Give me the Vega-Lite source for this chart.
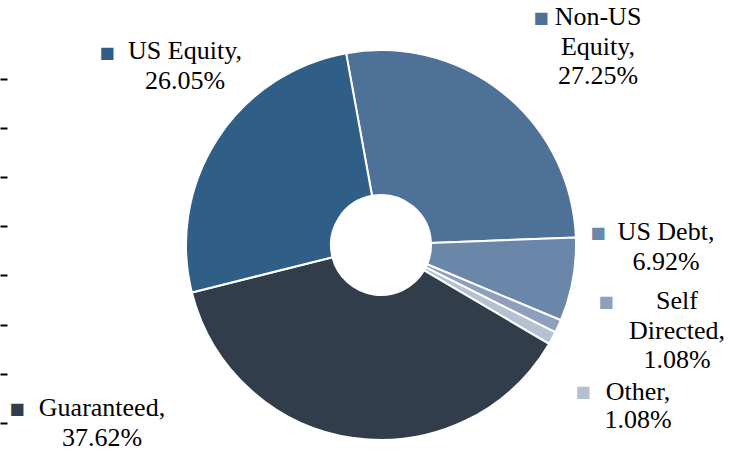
{
  "$schema": "https://vega.github.io/schema/vega-lite/v6.json",
  "autosize": {"type": "none"},
  "width": 726,
  "height": 414,
  "padding": {"left": 18, "top": 38, "right": 0, "bottom": 0},
  "background": "white",
  "config": {"view": {"stroke": null}, "text": {"font": "Liberation Serif"}},
  "data": {"values": [
    {"category": "Non-US Equity", "share": 27.25, "order": 1, "label": "Non-US\nEquity,\n27.25%"},
    {"category": "US Debt", "share": 6.92, "order": 2, "label": "US Debt,\n6.92%"},
    {"category": "Self Directed", "share": 1.08, "order": 3, "label": "Self\nDirected,\n1.08%"},
    {"category": "Other", "share": 1.08, "order": 4, "label": "Other,\n1.08%"},
    {"category": "Guaranteed", "share": 37.62, "order": 5, "label": "Guaranteed,\n37.62%"},
    {"category": "US Equity", "share": 26.05, "order": 6, "label": "US Equity,\n26.05%"}
  ]},
  "layer": [
    {
      "mark": {"type": "arc", "outerRadius": 195, "innerRadius": 50, "stroke": "white", "strokeWidth": 2},
      "encoding": {
        "theta": {"field": "share", "type": "quantitative", "stack": true, "scale": {"range": [-0.18, 6.1032]}},
        "order": {"field": "order", "type": "quantitative"},
        "color": {"field": "category", "type": "nominal", "legend": null,
          "scale": {"domain": ["Non-US Equity", "US Debt", "Self Directed", "Other", "Guaranteed", "US Equity"],
                    "range": ["#4E7197", "#6A86A8", "#8E9FBE", "#B5C0D0", "#323D4B", "#2F5F86"]}}
      }
    },
    {
      "data": {"values": [{}]},
      "mark": {"type": "point", "opacity": 0},
      "encoding": {
        "y": {"datum": 0, "type": "quantitative",
          "scale": {"domain": [-0.59, 7.825], "nice": false, "zero": false},
          "axis": {"values": [0, 1, 2, 3, 4, 5, 6, 7], "labels": false, "domain": false, "grid": false,
                   "ticks": true, "tickSize": 7, "tickWidth": 2, "tickColor": "black", "offset": 11, "title": null}}
      }
    },
    {"transform": [{"filter": "datum.category === 'US Equity'"}],
     "mark": {"type": "text", "dx": -196, "dy": -194, "fontSize": 26, "lineBreak": "\n", "lineHeight": 29.5, "align": "center", "baseline": "middle", "color": "black"},
     "encoding": {"text": {"field": "label"}}},
    {"transform": [{"filter": "datum.category === 'Non-US Equity'"}],
     "mark": {"type": "text", "dx": 217, "dy": -228, "fontSize": 26, "lineBreak": "\n", "lineHeight": 29.5, "align": "center", "baseline": "middle", "color": "black"},
     "encoding": {"text": {"field": "label"}}},
    {"transform": [{"filter": "datum.category === 'US Debt'"}],
     "mark": {"type": "text", "dx": 285, "dy": -13, "fontSize": 26, "lineBreak": "\n", "lineHeight": 29.5, "align": "center", "baseline": "middle", "color": "black"},
     "encoding": {"text": {"field": "label"}}},
    {"transform": [{"filter": "datum.category === 'Self Directed'"}],
     "mark": {"type": "text", "dx": 296, "dy": 56, "fontSize": 26, "lineBreak": "\n", "lineHeight": 29.5, "align": "center", "baseline": "middle", "color": "black"},
     "encoding": {"text": {"field": "label"}}},
    {"transform": [{"filter": "datum.category === 'Other'"}],
     "mark": {"type": "text", "dx": 257, "dy": 147, "fontSize": 26, "lineBreak": "\n", "lineHeight": 28, "align": "center", "baseline": "middle", "color": "black"},
     "encoding": {"text": {"field": "label"}}},
    {"transform": [{"filter": "datum.category === 'Guaranteed'"}],
     "mark": {"type": "text", "dx": -279, "dy": 163, "fontSize": 26, "lineBreak": "\n", "lineHeight": 29.5, "align": "center", "baseline": "middle", "color": "black"},
     "encoding": {"text": {"field": "label"}}},
    {"transform": [{"filter": "datum.category === 'US Equity'"}],
     "mark": {"type": "text", "text": "■", "font": "DejaVu Sans", "fontSize": 16, "dx": -274, "dy": -192, "align": "center", "baseline": "middle"},
     "encoding": {"color": {"field": "category", "type": "nominal", "legend": null}}},
    {"transform": [{"filter": "datum.category === 'Non-US Equity'"}],
     "mark": {"type": "text", "text": "■", "font": "DejaVu Sans", "fontSize": 16, "dx": 160, "dy": -227, "align": "center", "baseline": "middle"},
     "encoding": {"color": {"field": "category", "type": "nominal", "legend": null}}},
    {"transform": [{"filter": "datum.category === 'US Debt'"}],
     "mark": {"type": "text", "text": "■", "font": "DejaVu Sans", "fontSize": 16, "dx": 217, "dy": -12, "align": "center", "baseline": "middle"},
     "encoding": {"color": {"field": "category", "type": "nominal", "legend": null}}},
    {"transform": [{"filter": "datum.category === 'Self Directed'"}],
     "mark": {"type": "text", "text": "■", "font": "DejaVu Sans", "fontSize": 16, "dx": 225, "dy": 57, "align": "center", "baseline": "middle"},
     "encoding": {"color": {"field": "category", "type": "nominal", "legend": null}}},
    {"transform": [{"filter": "datum.category === 'Other'"}],
     "mark": {"type": "text", "text": "■", "font": "DejaVu Sans", "fontSize": 16, "dx": 202, "dy": 147, "align": "center", "baseline": "middle"},
     "encoding": {"color": {"field": "category", "type": "nominal", "legend": null}}},
    {"transform": [{"filter": "datum.category === 'Guaranteed'"}],
     "mark": {"type": "text", "text": "■", "font": "DejaVu Sans", "fontSize": 16, "dx": -364, "dy": 164, "align": "center", "baseline": "middle"},
     "encoding": {"color": {"field": "category", "type": "nominal", "legend": null}}}
  ]
}
